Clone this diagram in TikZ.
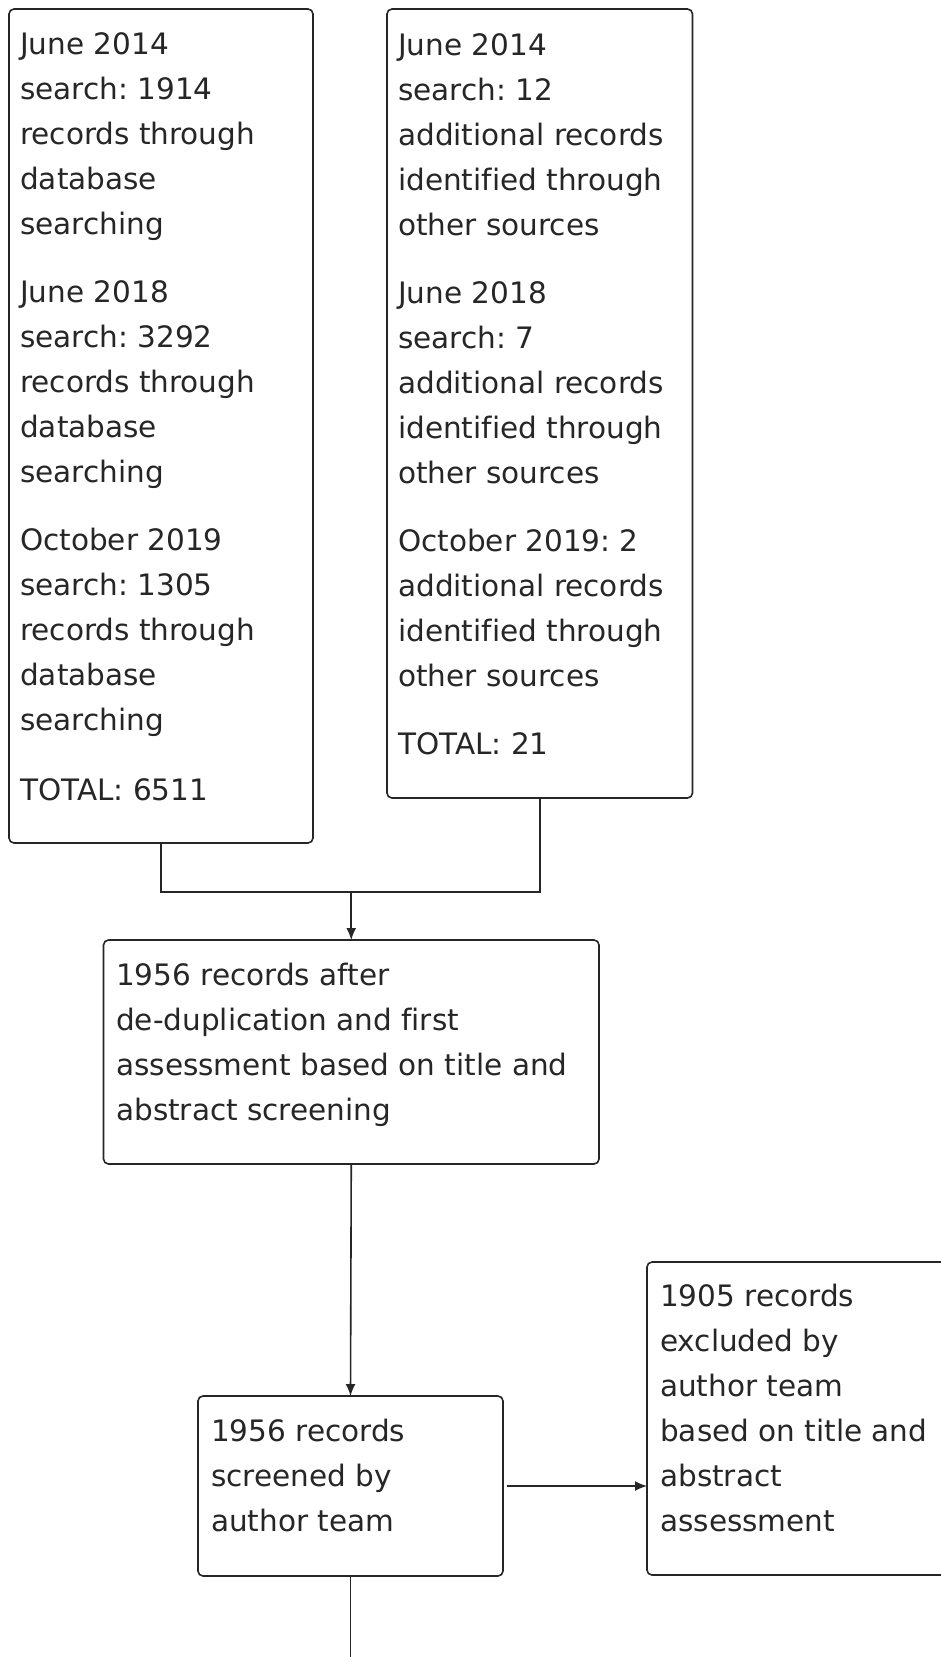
\documentclass[tikz,border=0pt]{standalone}
\usepackage{fontspec}
\setmainfont{DejaVu Sans}[Ligatures=NoCommon]
\usetikzlibrary{arrows.meta}
\frenchspacing
\begin{document}
\begin{tikzpicture}[x=1pt,y=-1pt,
  box/.style={draw=black!85, line width=1.6pt, rounded corners=5pt, inner sep=0pt, outer sep=0pt, anchor=north west},
  txt/.style={anchor=base west, align=left, inner sep=0pt, font=\fontsize{29.5}{45}\selectfont, text=black!85},
  conn/.style={draw=black!85, line width=1.6pt},
  arr/.style={conn, -{Latex[length=12pt,width=10pt]}}]
\useasboundingbox (0,0) rectangle (941,1657);
\fill[white] (0,0) rectangle (941,1657);
% boxes
\node[box, minimum width=304pt, minimum height=834pt] (A) at (9,9) {};
\node[box, minimum width=305.5pt, minimum height=789pt] (B) at (387,9) {};
\node[box, minimum width=495.5pt, minimum height=224pt] (C) at (103.5,940) {};
\node[box, minimum width=305pt, minimum height=180pt] (D) at (198,1396) {};
\node[box, minimum width=310pt, minimum height=313pt] (E) at (647,1262) {};
% texts (anchored at the baseline of their last line)
\node[txt] (At) at (20,800) {June 2014\\search: 1914\\records through\\database\\searching\\[23pt]June 2018\\search: 3292\\records through\\database\\searching\\[23pt]October 2019\\search: 1305\\records through\\database\\searching\\[25pt]TOTAL: 6511};
\node[txt] (Bt) at (398,754) {June 2014\\search: 12\\additional records\\identified through\\other sources\\[23pt]June 2018\\search: 7\\additional records\\identified through\\other sources\\[23pt]October 2019: 2\\additional records\\identified through\\other sources\\[23pt]TOTAL: 21};
\node[txt] (Ct) at (116,1120) {1956 records after\\de-duplication and first\\assessment based on title and\\abstract screening};
\node[txt] (Dt) at (211,1531) {1956 records\\screened by\\author team};
\node[txt] (Et) at (660,1531) {1905 records\\excluded by\\author team\\based on title and\\abstract\\assessment};
% connectors
\coordinate (J) at (352,892);
\coordinate (bottom) at (351,1670);
\draw[conn] (A.south) -- (A.south |- J) -- (B.south |- J) -- (B.south);
\draw[arr] (C.north |- J) -- (C.north);
\draw[arr] (C.south) -- (D.north);
\draw[arr] ([xshift=4pt]D.east) -- (D.east -| E.west);
\draw[conn] (D.south) -- (D.south |- bottom);
\end{tikzpicture}
\end{document}
